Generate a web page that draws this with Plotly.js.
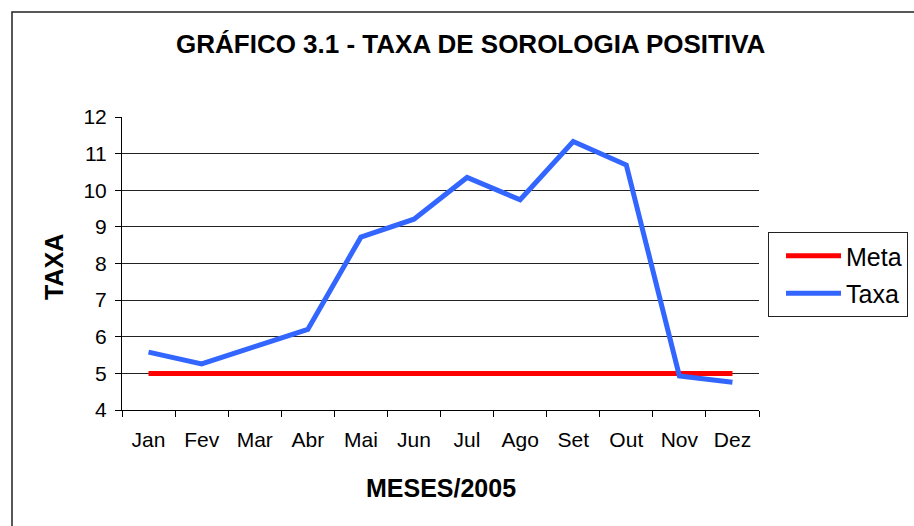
<!DOCTYPE html>
<html>
<head>
<meta charset="utf-8">
<script src="https://cdn.plot.ly/plotly-3.0.1.min.js"></script>
<style>
  html, body { margin: 0; padding: 0; background: #fff; }
  #chart { width: 914px; height: 526px; }
</style>
</head>
<body>
<div id="chart"></div>
<script>
const months = ["Jan", "Fev", "Mar", "Abr", "Mai", "Jun", "Jul", "Ago", "Set", "Out", "Nov", "Dez"];
const meta = [5, 5, 5, 5, 5, 5, 5, 5, 5, 5, 5, 5];
const taxa = [5.58, 5.26, 5.73, 6.2, 8.72, 9.21, 10.35, 9.74, 11.33, 10.69, 4.93, 4.76];
const yTicks = [4, 5, 6, 7, 8, 9, 10, 11, 12];
const gridVals = [5, 6, 7, 8, 9, 10, 11];

const FONT = "Liberation Sans, Arial, sans-serif";

const traces = [
  {
    x: months, y: meta, name: "Meta", type: "scatter", mode: "lines",
    line: { color: "#FF0000", width: 5 },
    legendgroup: "a", xaxis: "x", yaxis: "y"
  },
  {
    x: months, y: taxa, name: "Taxa", type: "scatter", mode: "lines",
    line: { color: "#3366FF", width: 5 },
    legendgroup: "b", xaxis: "x", yaxis: "y2"
  }
];

const layout = {
  width: 914, height: 526,
  margin: { l: 122, r: 155, t: 117, b: 116, autoexpand: false },
  paper_bgcolor: "#fff", plot_bgcolor: "#fff",
  font: { family: FONT, color: "#000" },
  title: {
    text: "<b>GRÁFICO 3.1 - TAXA DE SOROLOGIA POSITIVA</b>",
    font: { family: FONT, size: 26, color: "#000" },
    x: 0.515, xref: "container", xanchor: "center",
    y: 1 - 44 / 526, yref: "container", yanchor: "middle"
  },
  xaxis: {
    type: "category", categoryarray: months,
    range: [-0.5, 11.5],
    showline: true, linecolor: "#000", linewidth: 1,
    ticks: "outside", ticklen: 6, tickcolor: "#000", tickson: "boundaries",
    showgrid: false, zeroline: false,
    tickfont: { family: FONT, size: 21, color: "#000" },
    ticklabelstandoff: 11,
    fixedrange: true
  },
  yaxis: {
    range: [4, 12], tickvals: yTicks,
    showline: true, linecolor: "#000", linewidth: 1,
    ticks: "outside", ticklen: 6, tickcolor: "#000",
    showgrid: false, zeroline: false,
    tickfont: { family: FONT, size: 21, color: "#000" },
    ticklabelstandoff: 4,
    fixedrange: true
  },
  yaxis2: {
    overlaying: "y", anchor: "x", side: "left",
    range: [4, 12], tickvals: gridVals,
    showgrid: true, gridcolor: "#222", gridwidth: 1,
    showticklabels: false, ticks: "", showline: false, zeroline: false,
    fixedrange: true
  },
  legend: {
    x: (768 - 122) / 637, xanchor: "left",
    y: (410 - 232) / 293, yanchor: "top",
    bordercolor: "#222", borderwidth: 1, bgcolor: "#fff",
    font: { family: FONT, size: 25, color: "#000" },
    traceorder: "grouped", tracegroupgap: 2,
    itemwidth: 55, indentation: 12
  },
  annotations: [
    {
      text: "<b>TAXA</b>", xref: "paper", yref: "paper",
      x: (54 - 122) / 637, y: (410 - 267) / 293,
      xanchor: "center", yanchor: "middle", textangle: -90, showarrow: false,
      font: { family: FONT, size: 25, color: "#000" }
    },
    {
      text: "<b>MESES/2005</b>", xref: "paper", yref: "paper",
      x: (441 - 122) / 637, y: -(488 - 410) / 293,
      xanchor: "center", yanchor: "middle", showarrow: false,
      font: { family: FONT, size: 25, color: "#000" }
    }
  ],
  shapes: [
    {
      type: "rect", xref: "paper", yref: "paper",
      x0: (12 - 122) / 637, x1: 1.4, y0: -0.6, y1: 1 + (117 - 12) / 293,
      line: { color: "#222", width: 1.5 }, fillcolor: "rgba(0,0,0,0)", layer: "below"
    }
  ]
};

Plotly.newPlot("chart", traces, layout, { displayModeBar: false, staticPlot: true });
</script>
</body>
</html>
